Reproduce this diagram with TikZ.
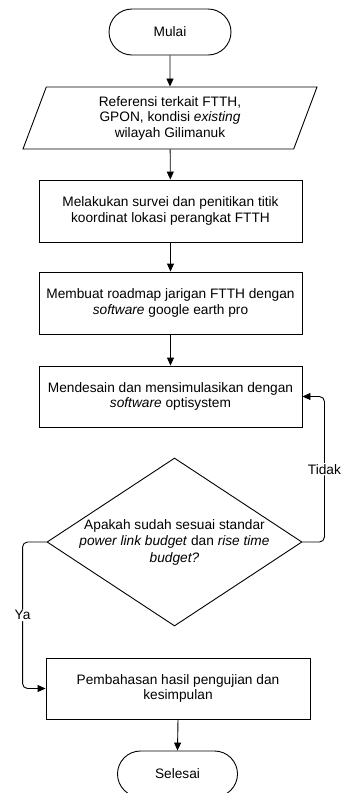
\documentclass[tikz,border=0pt]{standalone}
\usepackage{fontspec}
\setmainfont{Liberation Sans}
\usetikzlibrary{shapes.geometric,shapes.misc,arrows.meta}

\tikzset{
  base/.style={draw,line width=0.9pt,align=center,inner sep=2pt,
    font=\fontsize{13.7}{15.5}\selectfont},
  terminal/.style={base,rounded rectangle,minimum width=126pt,minimum height=46pt},
  io/.style={base,trapezium,trapezium left angle=64,trapezium right angle=116,
    trapezium stretches body,minimum width=294pt,minimum height=62pt},
  process/.style={base,rectangle,minimum width=263pt,minimum height=62pt},
  decision/.style={draw,line width=0.9pt,diamond,minimum width=255pt,minimum height=168pt,
    inner sep=0pt},
  inside/.style={align=center,font=\fontsize{13.7}{16.5}\selectfont},
  flow/.style={line width=0.9pt,-{Triangle[length=8pt,width=7pt]}},
  branch/.style={flow,rounded corners=5pt},
  tag/.style={fill=white,inner sep=1pt,font=\fontsize{13.7}{15.5}\selectfont}
}

\begin{document}
\begin{tikzpicture}[x=1pt,y=1pt]
  % Fix the page to the size of the reference
  \useasboundingbox (0,0) rectangle (343,-793);

  % Start and input
  \node[terminal] (mulai) at (170,-32) {Mulai};
  \node[io] (referensi) at (170,-118)
    {Referensi terkait FTTH,\\ GPON, kondisi \textit{existing}\\ wilayah Gilimanuk};

  % Process steps
  \node[process] (survei) at (170.5,-211)
    {Melakukan survei dan penitikan titik\\ koordinat lokasi perangkat FTTH};
  \node[process] (roadmap) at (170.5,-303)
    {Membuat roadmap jarigan FTTH dengan\\ \textit{software} google earth pro};
  \node[process,minimum height=61pt] (desain) at (170.5,-396.5)
    {Mendesain dan mensimulasikan dengan\\ \textit{software} optisystem};

  % Check against the standard (text set as a centre label so the diamond keeps its size)
  \node[decision,label={[inside]center:Apakah sudah sesuai standar\\
    \textit{power link budget} dan \textit{rise time}\\ \textit{budget?}}] (cek) at (174.5,-542) {};

  % Conclusion and end
  \node[process,minimum width=264pt,minimum height=61pt] (bahas) at (178,-688.5)
    {Pembahasan hasil pengujian dan\\ kesimpulan};
  \node[terminal,minimum width=124pt] (selesai) at (177.5,-774) {Selesai};

  % Connectors
  \draw[flow] (mulai) -- (referensi);
  \draw[flow] (referensi) -- (survei);
  \draw[flow] (survei) -- (roadmap);
  \draw[flow] (roadmap) -- (desain);
  \draw[flow] (bahas.south) -- (selesai.north);

  % Loop back when not met
  \draw[branch] (cek.east) -- ++(22,0) |- node[tag,pos=0.25] {Tidak} (desain.east);
  % Go on when met
  \draw[branch] (cek.west) -- ++(-24,0) |- node[tag,pos=0.25] {Ya} (bahas.west);
\end{tikzpicture}
\end{document}
